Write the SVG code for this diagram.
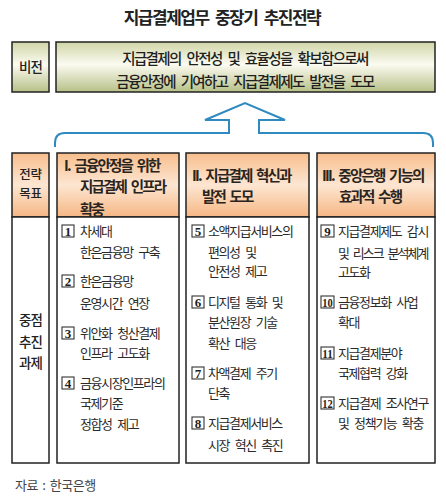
<svg xmlns="http://www.w3.org/2000/svg" width="446" height="500" viewBox="0 0 446 500">
<defs>
<linearGradient id="gVision" x1="0" y1="0" x2="0" y2="1">
<stop offset="0" stop-color="#cfd5a6"/>
<stop offset="0.45" stop-color="#fbfbf1"/>
<stop offset="1" stop-color="#b7c087"/>
</linearGradient>
<linearGradient id="gHead" x1="0" y1="0" x2="0" y2="1">
<stop offset="0" stop-color="#f7be8c"/>
<stop offset="0.5" stop-color="#fde6d2"/>
<stop offset="1" stop-color="#f6b784"/>
</linearGradient>
</defs>
<style>
text{font-family:"Noto Sans CJK KR","Noto Sans CJK SC",sans-serif;}
.title{font-size:17px;font-weight:700;fill:#222;letter-spacing:-1.5px;word-spacing:4px;}
.box{stroke:#222;stroke-width:1.5;}
.vis{font-size:14.5px;font-weight:500;fill:#1e1e1e;letter-spacing:-1.6px;word-spacing:4px;}
.lbl{font-size:13.5px;font-weight:500;fill:#222;letter-spacing:-0.8px;}
.lbl2{font-size:12.5px;font-weight:500;fill:#222;letter-spacing:-0.3px;}
.hd{font-size:14.5px;font-weight:700;fill:#2a2420;letter-spacing:-1.8px;word-spacing:3px;}
.bd{font-size:13px;fill:#2a2a2a;letter-spacing:-1.4px;word-spacing:4px;}
.mk{fill:#fff;stroke:#333;stroke-width:1.1;}
.num{font-family:"Liberation Serif",serif;font-size:13px;font-weight:700;fill:#1e1e1e;}
.src{font-size:13px;fill:#444;letter-spacing:-0.5px;word-spacing:2px;}
.arr{fill:none;stroke:#2f8ac0;stroke-width:2;stroke-linejoin:miter;}
</style>

<text class="title" x="222" y="24" text-anchor="middle">지급결제업무 중장기 추진전략</text>

<g id="vision-label">
<rect class="box" x="12" y="42" width="37" height="50" fill="url(#gVision)"/>
<text class="lbl" x="30.5" y="72" text-anchor="middle">비전</text>
</g>
<g id="vision">
<rect class="box" x="56" y="42" width="379" height="50" fill="url(#gVision)"/>
<text class="vis" x="245" y="63.5" text-anchor="middle">지급결제의 안전성 및 효율성을 확보함으로써</text>
<text class="vis" x="245" y="86.5" text-anchor="middle">금융안정에 기여하고 지급결제제도 발전을 도모</text>
</g>

<g id="connectors">
<path class="arr" d="M55,147 L55,143 Q55,133 65,133 L229,133 L229,120 L205,120 L245,103 L285,120 L259,120 L259,133 L423,133 Q433,133 433,143 L433,147"/>
</g>

<g id="goal-label">
<rect class="box" x="12" y="153" width="37" height="64" fill="url(#gHead)"/>
<text class="lbl2" x="30.5" y="179" text-anchor="middle">전략</text>
<text class="lbl2" x="30.5" y="197.5" text-anchor="middle">목표</text>
</g>
<g id="goal-1">
<rect class="box" x="57" y="153" width="122" height="64" fill="url(#gHead)"/>
<text class="hd" x="64" y="171">I. 금융안정을 위한</text>
<text class="hd" x="80" y="192">지급결제 인프라</text>
<text class="hd" x="80" y="215">확충</text>
</g>
<g id="goal-2">
<rect class="box" x="186" y="153" width="123" height="64" fill="url(#gHead)"/>
<text class="hd" x="192" y="180.5">II. 지급결제 혁신과</text>
<text class="hd" x="202" y="201.5">발전 도모</text>
</g>
<g id="goal-3">
<rect class="box" x="317" y="153" width="118" height="64" fill="url(#gHead)"/>
<text class="hd" x="322" y="180.5">III. 중앙은행 기능의</text>
<text class="hd" x="339" y="201.5">효과적 수행</text>
</g>

<g id="task-label">
<rect class="box" x="12" y="217" width="37" height="246" fill="#fff"/>
<text class="lbl" x="30.5" y="324.5" text-anchor="middle">중점</text>
<text class="lbl" x="30.5" y="346.5" text-anchor="middle">추진</text>
<text class="lbl" x="30.5" y="367.5" text-anchor="middle">과제</text>
</g>

<g id="tasks-1">
<rect class="box" x="57" y="217" width="122" height="246" fill="#fff"/>
<rect class="mk" x="62" y="225" width="12" height="12"/><text class="num" x="68" y="235.5" text-anchor="middle">1</text>
<text class="bd" x="80" y="235.5">차세대</text>
<text class="bd" x="80" y="256.5">한은금융망 구축</text>
<rect class="mk" x="62" y="275" width="12" height="12"/><text class="num" x="68" y="285.5" text-anchor="middle">2</text>
<text class="bd" x="80" y="285.5">한은금융망</text>
<text class="bd" x="80" y="307.5">운영시간 연장</text>
<rect class="mk" x="62" y="327" width="12" height="12"/><text class="num" x="68" y="337.5" text-anchor="middle">3</text>
<text class="bd" x="80" y="337.5">위안화 청산결제</text>
<text class="bd" x="80" y="357.5">인프라 고도화</text>
<rect class="mk" x="62" y="377" width="12" height="12"/><text class="num" x="68" y="387.5" text-anchor="middle">4</text>
<text class="bd" x="80" y="387.5">금융시장인프라의</text>
<text class="bd" x="80" y="407.5">국제기준</text>
<text class="bd" x="80" y="428.5">정합성 제고</text>
</g>

<g id="tasks-2">
<rect class="box" x="186" y="217" width="123" height="246" fill="#fff"/>
<rect class="mk" x="192" y="225" width="12" height="12"/><text class="num" x="198" y="235.5" text-anchor="middle">5</text>
<text class="bd" x="208" y="235.5">소액지급서비스의</text>
<text class="bd" x="208" y="256.5">편의성 및</text>
<text class="bd" x="208" y="275.5">안전성 제고</text>
<rect class="mk" x="192" y="296" width="12" height="12"/><text class="num" x="198" y="306.5" text-anchor="middle">6</text>
<text class="bd" x="208" y="306.5">디지털 통화 및</text>
<text class="bd" x="208" y="326.5">분산원장 기술</text>
<text class="bd" x="208" y="347.5">확산 대응</text>
<rect class="mk" x="192" y="367" width="12" height="12"/><text class="num" x="198" y="377.5" text-anchor="middle">7</text>
<text class="bd" x="208" y="377.5">차액결제 주기</text>
<text class="bd" x="208" y="397.5">단축</text>
<rect class="mk" x="192" y="417" width="12" height="12"/><text class="num" x="198" y="427.5" text-anchor="middle">8</text>
<text class="bd" x="208" y="427.5">지급결제서비스</text>
<text class="bd" x="208" y="449.5">시장 혁신 촉진</text>
</g>

<g id="tasks-3">
<rect class="box" x="317" y="217" width="118" height="246" fill="#fff"/>
<rect class="mk" x="321" y="225" width="13" height="12"/><text class="num" x="327.5" y="235.5" text-anchor="middle">9</text>
<text class="bd" x="338" y="235.5">지급결제제도 감시</text>
<text class="bd" x="338" y="257.5" textLength="90" lengthAdjust="spacing">및 리스크 분석체계</text>
<text class="bd" x="338" y="276.5">고도화</text>
<rect class="mk" x="321" y="296" width="13" height="12"/><text class="num" x="327.5" y="306.5" text-anchor="middle" font-size="11.5" textLength="10.5" lengthAdjust="spacingAndGlyphs">10</text>
<text class="bd" x="338" y="306.5">금융정보화 사업</text>
<text class="bd" x="338" y="326.5">확대</text>
<rect class="mk" x="321" y="347" width="13" height="12"/><text class="num" x="327.5" y="357.5" text-anchor="middle" font-size="11.5" textLength="10.5" lengthAdjust="spacingAndGlyphs">11</text>
<text class="bd" x="338" y="357.5">지급결제분야</text>
<text class="bd" x="338" y="377.5">국제협력 강화</text>
<rect class="mk" x="321" y="397" width="13" height="12"/><text class="num" x="327.5" y="407.5" text-anchor="middle" font-size="11.5" textLength="10.5" lengthAdjust="spacingAndGlyphs">12</text>
<text class="bd" x="338" y="407.5">지급결제 조사연구</text>
<text class="bd" x="338" y="427.5">및 정책기능 확충</text>
</g>

<text class="src" x="15" y="490">자료 : 한국은행</text>
</svg>
